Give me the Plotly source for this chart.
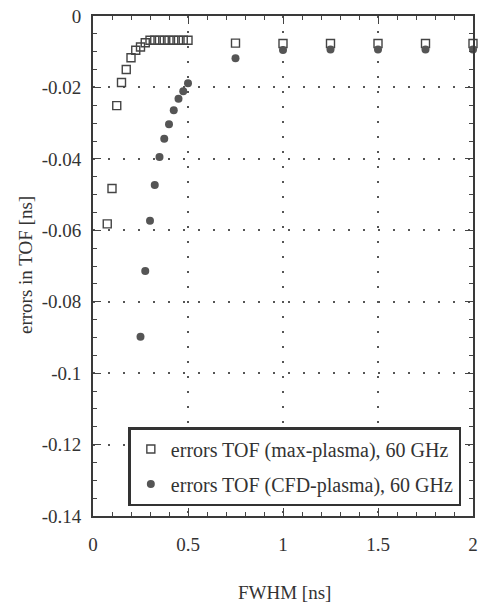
import plotly.graph_objects as go

# Data
max_x = [0.075, 0.1, 0.125, 0.15, 0.175, 0.2, 0.225, 0.25, 0.275, 0.3, 0.325, 0.35,
         0.375, 0.4, 0.425, 0.45, 0.475, 0.5, 0.75, 1.0, 1.25, 1.5, 1.75, 2.0]
max_y = [-0.0582, -0.0483, -0.0251, -0.0186, -0.0150, -0.0117, -0.0096, -0.0087,
         -0.0075, -0.0068, -0.0068, -0.0068, -0.0068, -0.0068, -0.0068, -0.0068,
         -0.0068, -0.0068, -0.0076, -0.0077, -0.0077, -0.0077, -0.0077, -0.0077]

cfd_x = [0.25, 0.275, 0.3, 0.325, 0.35, 0.375, 0.4, 0.425, 0.45, 0.475, 0.5,
         0.75, 1.0, 1.25, 1.5, 1.75, 2.0]
cfd_y = [-0.0898, -0.0714, -0.0573, -0.0473, -0.0395, -0.0344, -0.0303, -0.0264,
         -0.0232, -0.0211, -0.0188, -0.0118, -0.0095, -0.0094, -0.0094, -0.0094, -0.0094]

x_ticks = [0, 0.5, 1, 1.5, 2]
x_tick_labels = ["0", "0.5", "1", "1.5", "2"]
y_ticks = [0, -0.02, -0.04, -0.06, -0.08, -0.1, -0.12, -0.14]
y_tick_labels = ["0", "-0.02", "-0.04", "-0.06", "-0.08", "-0.1", "-0.12", "-0.14"]

name_max = "errors TOF (max-plasma), 60 GHz"
name_cfd = "errors TOF (CFD-plasma), 60 GHz"
x_title = "FWHM [ns]"
y_title = "errors in TOF [ns]"

FONT = "Liberation Serif, Times New Roman, serif"
INK = "#333333"

fig = go.Figure()
fig.add_trace(go.Scatter(
    x=max_x, y=max_y, mode="markers", name=name_max, legendgroup="a",
    marker=dict(symbol="square-open", size=8, color="#444444", line=dict(width=1.4, color="#444444")),
    cliponaxis=False,
))
fig.add_trace(go.Scatter(
    x=cfd_x, y=cfd_y, mode="markers", name=name_cfd, legendgroup="b",
    marker=dict(symbol="circle", size=8, color="#555555", line=dict(width=0)),
    cliponaxis=False,
))

axis_common = dict(
    showline=True, linecolor="#3a3a3a", linewidth=1.8, mirror="allticks",
    ticks="inside", ticklen=8, tickwidth=1.2, tickcolor="#444444",
    showgrid=True, gridcolor="#555555", gridwidth=1.5, griddash="2px,13px",
    zeroline=False, tickfont=dict(family=FONT, size=19, color=INK),
    tickmode="array", automargin=False,
)

fig.update_xaxes(
    **axis_common, range=[0, 2], tickvals=x_ticks, ticktext=x_tick_labels,
    minor=dict(dtick=0.1, tick0=0, ticks="inside", ticklen=4, tickcolor="#444444", showgrid=False),
    ticklabelstandoff=10,
)
fig.update_yaxes(
    **axis_common, range=[-0.14, 0], tickvals=y_ticks, ticktext=y_tick_labels,
    minor=dict(dtick=0.005, tick0=0, ticks="inside", ticklen=4, tickcolor="#444444", showgrid=False),
    ticklabelstandoff=6,
)

fig.add_annotation(
    text=x_title, xref="paper", yref="paper", x=0.505, y=-0.152,
    xanchor="center", yanchor="middle", showarrow=False,
    font=dict(family=FONT, size=19, color=INK),
)
fig.add_annotation(
    text=y_title, xref="paper", yref="paper", x=-0.179, y=0.502,
    xanchor="center", yanchor="middle", showarrow=False, textangle=-90,
    font=dict(family=FONT, size=19, color=INK),
)

fig.update_layout(
    width=481, height=603,
    margin=dict(l=93, r=8, t=16, b=87),
    paper_bgcolor="white", plot_bgcolor="white",
    font=dict(family=FONT, color=INK),
    showlegend=True,
    legend=dict(
        x=0.093, y=0.178, xanchor="left", yanchor="top",
        bgcolor="white", bordercolor="#333333", borderwidth=2.5,
        font=dict(family=FONT, size=20, color=INK),
        tracegroupgap=6,
    ),
)

# Remove the default page margin so the figure fills the window exactly
fig.write_html(
    "out.html",
    config={"displayModeBar": False},
    post_script="document.body.style.margin='0';document.body.style.overflow='hidden';",
)
